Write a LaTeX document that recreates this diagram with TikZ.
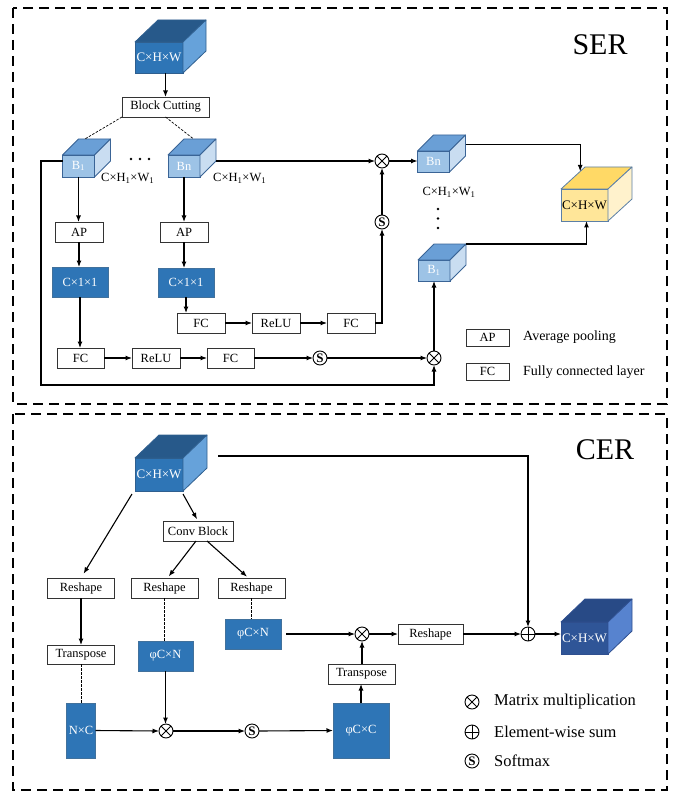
\documentclass[tikz,border=0pt]{standalone}
\usepackage{fontspec}
\setmainfont{Liberation Serif}
\usetikzlibrary{arrows.meta,calc}

\definecolor{boxblue}{HTML}{2E75B6}
\definecolor{boxedge}{HTML}{41719C}
\definecolor{bigtop}{HTML}{27598A}
\definecolor{bigside}{HTML}{66A2DA}
\definecolor{bigedge}{HTML}{2F5F8F}
\definecolor{smfront}{HTML}{9DC3E6}
\definecolor{smtop}{HTML}{6A9FD6}
\definecolor{smside}{HTML}{C9DDF1}
\definecolor{smedge}{HTML}{3A6496}
\definecolor{yfront}{HTML}{FFE699}
\definecolor{ytop}{HTML}{FFD966}
\definecolor{yside}{HTML}{FFF2CC}
\definecolor{yedge}{HTML}{5B7FA6}
\definecolor{nfront}{HTML}{2F5597}
\definecolor{ntop}{HTML}{284A86}
\definecolor{nside}{HTML}{5783CF}
\definecolor{nedge}{HTML}{2F4F8F}

% top and side faces of a box drawn behind the front-face node #1
% #2,#3 depth offsets; #4 top fill; #5 side fill; #6 edge colour
\newcommand\cubesides[6]{%
  \coordinate (#1-tl) at ($(#1.north west)+(#2,-#3)$);
  \coordinate (#1-tr) at ($(#1.north east)+(#2,-#3)$);
  \coordinate (#1-br) at ($(#1.south east)+(#2,-#3)$);
  \filldraw[fill=#4,draw=#6,line width=0.8pt,line join=round]
    (#1.north west) -- (#1-tl) -- (#1-tr) -- (#1.north east) -- cycle;
  \filldraw[fill=#5,draw=#6,line width=0.8pt,line join=round]
    (#1.north east) -- (#1-tr) -- (#1-br) -- (#1.south east) -- cycle;
}

\begin{document}
\begin{tikzpicture}[x=1pt,y=-1pt,
  >={Latex[length=6.5pt,width=5pt]},
  conn/.style={->,line width=1.1pt},
  link/.style={line width=0.7pt,dash pattern=on 2.5pt off 1.5pt},
  panel/.style={line width=1.4pt,dash pattern=on 10pt off 6pt},
  basebox/.style={rectangle,inner sep=0pt,outer sep=0pt,line width=0.8pt,
    font=\fontsize{12.5}{14}\selectfont},
  wbox/.style={basebox,draw=black!80,fill=white,minimum height=20pt},
  bbox/.style={basebox,draw=boxedge,fill=boxblue,text=white},
  bigcube/.style={basebox,draw=bigedge,fill=boxblue,text=white,
    minimum width=48pt,minimum height=31pt,font=\fontsize{13}{14}\selectfont},
  smallcube/.style={basebox,draw=smedge,fill=smfront,text=white,
    minimum width=32pt,minimum height=22pt},
  yelcube/.style={basebox,draw=yedge,fill=yfront,text=black,
    minimum width=47pt,minimum height=32pt,font=\fontsize{13}{14}\selectfont},
  navycube/.style={basebox,draw=nedge,fill=nfront,text=white,
    minimum width=47pt,minimum height=32pt,font=\fontsize{13}{14}\selectfont},
  dimlabel/.style={inner sep=0pt,font=\fontsize{12.5}{14}\selectfont},
  optype/.style={circle,draw,fill=white,line width=0.9pt,minimum size=14pt,
    inner sep=0pt,outer sep=0pt},
  opmul/.style={optype,path picture={\draw[line width=0.9pt]
    (path picture bounding box.north west) -- (path picture bounding box.south east)
    (path picture bounding box.north east) -- (path picture bounding box.south west);}},
  opadd/.style={optype,path picture={\draw[line width=0.9pt]
    (path picture bounding box.north) -- (path picture bounding box.south)
    (path picture bounding box.west) -- (path picture bounding box.east);}},
  opsoft/.style={optype,font=\fontsize{13}{13}\selectfont\bfseries},
  legA/.style={inner sep=0pt,anchor=west,font=\fontsize{14}{16}\selectfont},
  legB/.style={inner sep=0pt,anchor=west,font=\fontsize{16.5}{18}\selectfont},
  title/.style={inner sep=0pt,font=\fontsize{30}{32}\selectfont}
]
\useasboundingbox (0,0) rectangle (678,794);

% ---------- panels ----------
\draw[panel] (13,8) rectangle (667,404);
\draw[panel] (13,414) rectangle (667,790);
\node[title] (sertitle) at (600,45) {SER};
\node[title] (certitle) at (605,450) {CER};

% ---------- SER ----------
\node[bigcube] (inA) at (159,57.5) {C×H×W};
\cubesides{inA}{23}{22}{bigtop}{bigside}{bigedge}
\node[wbox,minimum width=87pt] (cut) at (165.5,107) {Block Cutting};

\node[smallcube] (b1) at (78.5,166) {B\textsubscript{1}};
\cubesides{b1}{16}{16}{smtop}{smside}{smedge}
\node[smallcube] (bn) at (184,166) {Bn};
\cubesides{bn}{16}{16}{smtop}{smside}{smedge}
\node[dimlabel,anchor=west] (dimb1) at (101,178) {C×H\textsubscript{1}×W\textsubscript{1}};
\node[dimlabel,anchor=west] (dimbn) at (213,178) {C×H\textsubscript{1}×W\textsubscript{1}};
\fill (131,159) circle[radius=1.4] (140,159) circle[radius=1.4] (149,159) circle[radius=1.4];

\node[wbox,minimum width=48pt] (ap1) at (79,232) {AP};
\node[wbox,minimum width=48pt] (ap2) at (184,232) {AP};
\node[bbox,minimum width=56pt,minimum height=30pt] (c1) at (80,282) {C×1×1};
\node[bbox,minimum width=56pt,minimum height=29pt] (c2) at (186,282.5) {C×1×1};

\node[wbox,minimum width=47pt] (fc1) at (80.5,358) {FC};
\node[wbox,minimum width=48pt] (relu1) at (156,358) {ReLU};
\node[wbox,minimum width=47pt] (fc2) at (230.5,358) {FC};
\node[opsoft] (s1) at (320,358) {S};
\node[opmul] (mul1) at (434,358) {};

\node[wbox,minimum width=48pt] (fc3) at (201,323) {FC};
\node[wbox,minimum width=48pt] (relu2) at (276,323) {ReLU};
\node[wbox,minimum width=48pt] (fc4) at (351,323) {FC};
\node[opsoft] (s2) at (382,222) {S};
\node[opmul] (mul2) at (382,161) {};

\node[smallcube,minimum height=21pt] (bnr) at (433.5,161.5) {Bn};
\cubesides{bnr}{16}{16}{smtop}{smside}{smedge}
\node[smallcube,minimum height=21pt] (b1r) at (434,270.5) {B\textsubscript{1}};
\cubesides{b1r}{16}{16}{smtop}{smside}{smedge}
\node[dimlabel] (dimr) at (449,192) {C×H\textsubscript{1}×W\textsubscript{1}};
\fill (438,209) circle[radius=1.4] (438,218.5) circle[radius=1.4] (438,228) circle[radius=1.4];

\node[yelcube] (outA) at (584.5,205) {C×H×W};
\cubesides{outA}{24}{22}{ytop}{yside}{yedge}

% legend
\node[wbox,minimum width=43pt,minimum height=17pt] (lap) at (487.5,337.5) {AP};
\node[legA] (lapt) at (523,337) {Average pooling};
\node[wbox,minimum width=43pt,minimum height=17pt] (lfc) at (487.5,371.5) {FC};
\node[legA] (lfct) at (523,372) {Fully connected layer};

% SER connectors
\coordinate (loop) at (41,385);
\draw[conn] (inA.south -| cut.north) -- (cut.north);
\draw[link] (cut.south west) -- ($(b1-tl)!0.2!(b1-tr)$);
\draw[link] (cut.south) -- ($(bn-tl)!0.3!(bn-tr)$);
\draw[conn] (b1.south) -- (b1.south |- ap1.north);
\draw[conn] (ap1.south) -- (ap1.south |- c1.north);
\draw[conn] (c1.south) -- (c1.south |- fc1.north);
\draw[conn] (fc1.east) -- (relu1.west);
\draw[conn] (relu1.east) -- (fc2.west);
\draw[conn] (fc2.east) -- (s1.west);
\draw[conn] (s1.east) -- (mul1.west);
\draw[conn] ([yshift=5pt]b1.west) -| (loop) -| (mul1.south);
\draw[conn] (mul1.north) -- (mul1.north |- b1r.south);
\draw[conn] (bn.south) -- (bn.south |- ap2.north);
\draw[conn] (ap2.south) -- (ap2.south |- c2.north);
\draw[conn] (c2.south) -- (c2.south |- fc3.north);
\draw[conn] (fc3.east) -- (relu2.west);
\draw[conn] (relu2.east) -- (fc4.west);
\draw[conn] (fc4.east) -| (s2.south);
\draw[conn] (s2.north) -- (mul2.south);
\draw[conn] (bn-br |- mul2.west) -- (mul2.west);
\draw[conn] (mul2.east) -- (mul2.east -| bnr.west);
\draw[conn] ($(bnr-tr)!0.45!(bnr-br)$) -| ($(outA.north west)!0.8!(outA-tl)$);
\draw[conn] (b1r-tr) -| ([xshift=2pt]outA.south);

% ---------- CER ----------
\node[bigcube,minimum height=33pt] (inB) at (159,474.5) {C×H×W};
\cubesides{inB}{24}{23}{bigtop}{bigside}{bigedge}
\node[wbox,minimum width=70pt] (conv) at (198,531) {Conv Block};
\node[wbox,minimum width=67pt] (rs1) at (81,588) {Reshape};
\node[wbox,minimum width=67pt] (rs2) at (164.5,588) {Reshape};
\node[wbox,minimum width=67pt] (rs3) at (251.5,588) {Reshape};
\node[wbox,minimum width=67pt,minimum height=19pt] (tr1) at (81,654.5) {Transpose};
\node[bbox,minimum width=29pt,minimum height=55pt] (nc) at (81,730.5) {N×C};
\node[bbox,minimum width=55pt,minimum height=30pt] (pcn1) at (165.5,656) {φC×N};
\node[bbox,minimum width=56pt,minimum height=30pt] (pcn2) at (253,634) {φC×N};
\node[opmul] (mul3) at (166,731) {};
\node[opsoft] (s3) at (252,731) {S};
\node[bbox,minimum width=56pt,minimum height=55pt] (pcc) at (361,730.5) {φC×C};
\node[wbox,minimum width=67pt] (tr2) at (361.5,674) {Transpose};
\node[opmul] (mul4) at (362,634) {};
\node[wbox,minimum width=65pt] (rs4) at (430.5,634) {Reshape};
\node[opadd] (add1) at (528,634) {};
\node[navycube] (outB) at (584.5,638) {C×H×W};
\cubesides{outB}{24}{23}{ntop}{nside}{nedge}

% legend
\node[opmul] (lmul) at (472,702) {};
\node[legB] (lmult) at (494,702) {Matrix multiplication};
\node[opadd] (ladd) at (472,732) {};
\node[legB] (laddt) at (494,732) {Element-wise sum};
\node[opsoft] (lsoft) at (472,761) {S};
\node[legB] (lsoftt) at (494,761) {Softmax};

% CER connectors
\coordinate (tap) at (218,456);
\draw[conn] (tap) -| (add1.north);
\draw[conn,shorten >=5pt] ($(inB.south west)+(-3,3)$) -- (rs1.north);
\draw[conn,shorten >=2pt] ($(inB.south east)+(0,3)$) -- (conv.north);
\draw[conn,shorten >=2pt] ([xshift=-2pt]conv.south) -- ([xshift=3pt]rs2.north);
\draw[conn,shorten >=2pt] ([xshift=9pt]conv.south) -- ([xshift=-3pt]rs3.north);
\draw[conn] (rs1.south) -- (tr1.north);
\draw[link] (tr1.south) -- (nc.north);
\draw[link] (rs2.south) -- (rs2.south |- pcn1.north);
\draw[link] (rs3.south) -- (rs3.south |- pcn2.north);
\draw[conn] (pcn1.south) -- (pcn1.south |- mul3.north);
\draw[conn] (nc.east) -- (mul3.west);
\draw[conn] (mul3.east) -- (s3.west);
\draw[conn] (s3.east) -- (pcc.west);
\draw[conn] (pcc.north) -- (pcc.north |- tr2.south);
\draw[conn] (tr2.north -| mul4.south) -- (mul4.south);
\draw[conn] ([xshift=5pt]pcn2.east) -- (mul4.west);
\draw[conn] (mul4.east) -- (rs4.west);
\draw[conn] (rs4.east) -- (add1.west);
\draw[conn] (add1.east) -- (add1.east -| outB.west);
\end{tikzpicture}
\end{document}
